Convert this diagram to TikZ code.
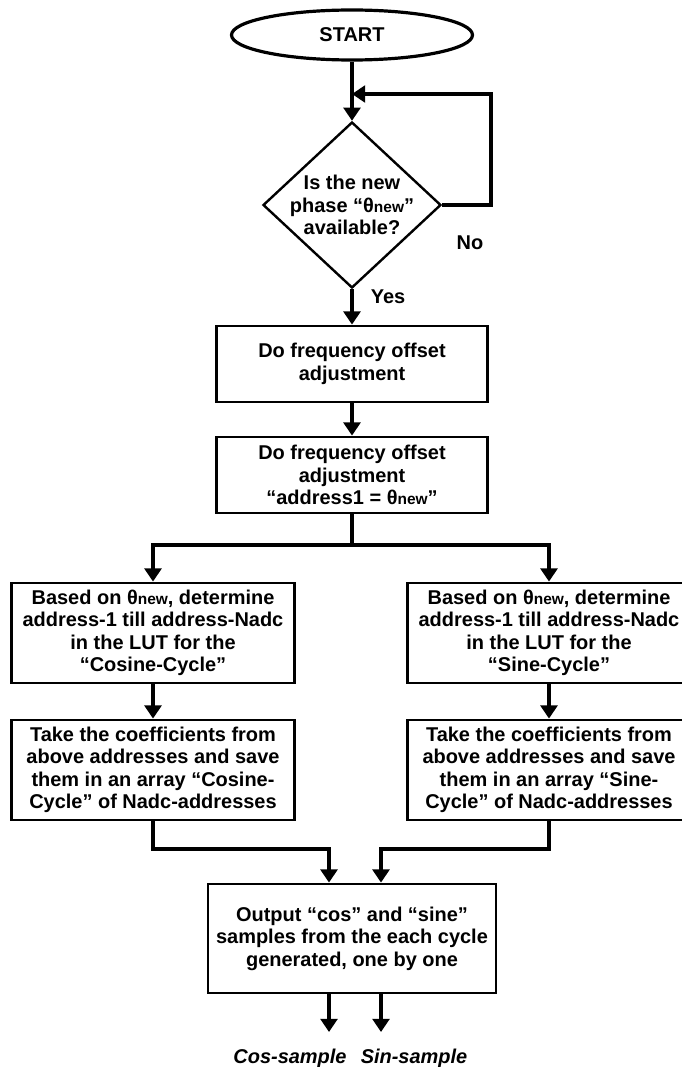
\documentclass[tikz,border=0pt]{standalone}
\usepackage{fontspec}
\setmainfont{Liberation Sans}
\usetikzlibrary{arrows.meta,shapes.geometric}
\def\thnew{θ{\fontsize{11}{11}\selectfont new}}

\begin{document}
\begin{tikzpicture}[
		every node/.style={font=\fontsize{14.2}{16}\selectfont\bfseries},
		box/.style={draw, line width=0.07cm, align=center, inner sep=0},
		wire/.style={line width=0.1cm},
		flow/.style={wire, -{Triangle[length=0.33cm,width=0.42cm]}},
		lbl/.style={font=\fontsize{14.2}{16}\selectfont\bfseries\itshape}
	]
		%%%%% START %%%%%
		\useasboundingbox (0, 0) rectangle (17.025, -26.675);
		
		\node[box, ellipse, line width=0.08cm, minimum width=6.025cm, minimum height=1.25cm] (start) at (8.8, -0.875) {START};
		
		\node[box, diamond, line width=0.06cm, minimum width=4.45cm, minimum height=4.15cm] (avail) at (8.8, -5.125) {};
		\node[align=center] (availtxt) at (avail) {Is the new\\ phase “\thnew”\\ available?};
		\node (no) at (11.75, -6.075) {No};
		\node (yes) at (9.7, -7.425) {Yes};
		
		\node[box, minimum width=6.775cm, minimum height=1.9cm] (adjust) at (8.8, -9.1) {Do frequency offset\\ adjustment};
		\node[box, minimum width=6.775cm, minimum height=1.9cm] (addr) at (8.8, -11.875) {Do frequency offset\\ adjustment\\ “address1 = \thnew”};
		
		\node[box, minimum width=7.075cm, minimum height=2.5cm] (lutcos) at (3.825, -15.825) {Based on \thnew, determine\\ address-1 till address-Nadc\\ in the LUT for the\\ “Cosine-Cycle”};
		\node[box, minimum width=7.075cm, minimum height=2.5cm] (lutsin) at (13.725, -15.825) {Based on \thnew, determine\\ address-1 till address-Nadc\\ in the LUT for the\\ “Sine-Cycle”};
		
		\node[box, minimum width=7.075cm, minimum height=2.5cm] (savecos) at (3.825, -19.25) {Take the coefficients from\\ above addresses and save\\ them in an array “Cosine-\\ Cycle” of Nadc-addresses};
		\node[box, minimum width=7.075cm, minimum height=2.5cm] (savesin) at (13.725, -19.25) {Take the coefficients from\\ above addresses and save\\ them in an array “Sine-\\ Cycle” of Nadc-addresses};
		
		\node[box, minimum width=7.2cm, minimum height=2.725cm] (outp) at (8.8, -23.4625) {Output “cos” and “sine”\\ samples from the each cycle\\ generated, one by one};
		
		\node[lbl] (coslbl) at (7.25, -26.45) {Cos-sample};
		\node[lbl] (sinlbl) at (10.35, -26.45) {Sin-sample};
		
		% loop back and branch points
		\coordinate (back) at (8.8, -2.35);
		\coordinate (split) at (8.8, -13.625);
		\coordinate (cosjoin) at (8.225, -21.225);
		\coordinate (sinjoin) at (9.525, -21.225);
		\coordinate (cosout) at (8.225, -25.8);
		\coordinate (sinout) at (9.525, -25.8);
		
		\draw[flow] (start) -- (avail);
		\draw[flow] (avail.east) -- ++(1.225, 0) |- (back);
		\draw[flow] (avail) -- (adjust);
		\draw[flow] (adjust) -- (addr);
		
		\draw[wire] (addr) -- (split);
		\draw[flow] (split) -| (lutcos.north);
		\draw[flow] (split) -| (lutsin.north);
		\draw[flow] (lutcos) -- (savecos);
		\draw[flow] (lutsin) -- (savesin);
		
		\draw[flow] (savecos.south) |- (cosjoin) -- (cosjoin |- outp.north);
		\draw[flow] (savesin.south) |- (sinjoin) -- (sinjoin |- outp.north);
		
		\draw[flow] (cosout |- outp.south) -- (cosout);
		\draw[flow] (sinout |- outp.south) -- (sinout);
		%%%%% END %%%%%
	\end{tikzpicture}
\end{document}
